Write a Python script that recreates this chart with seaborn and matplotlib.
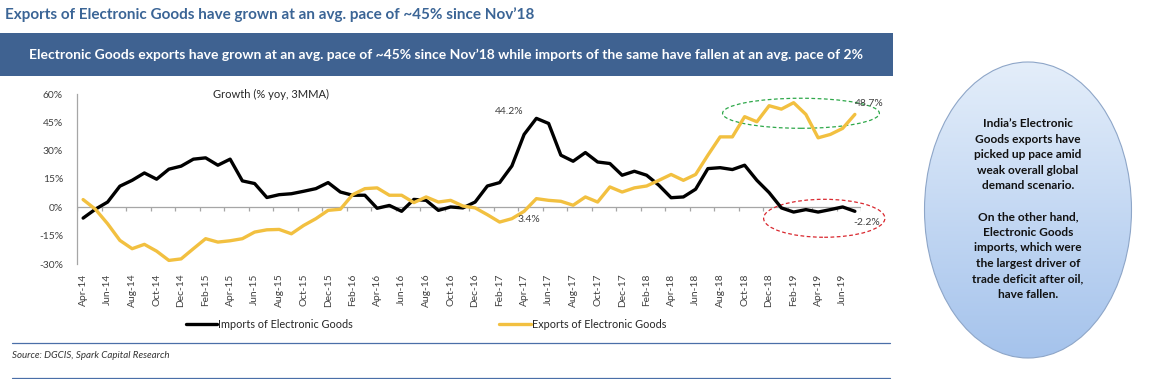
"""Electronic goods trade: imports vs exports growth (% yoy, 3MMA)."""

import matplotlib
matplotlib.use("Agg")
import matplotlib.pyplot as plt
import numpy as np
import pandas as pd
import seaborn as sns
from matplotlib.colors import LinearSegmentedColormap
from matplotlib.patches import Ellipse, Rectangle

# --- data ---
months = pd.date_range("2014-04-01", "2019-07-01", freq="MS")
month_labels = [d.strftime("%b-%y") for d in months]

imports_growth = [
    -5.7, -1.0, 2.8, 11.2, 14.3, 18.2, 14.9, 20.2, 21.8, 25.5, 26.2, 22.3, 25.5, 14.0, 12.6, 5.2,
    6.7, 7.2, 8.5, 9.9, 13.1, 8.1, 6.4, 6.4, -0.5, 1.0, -2.1, 4.2, 3.7, -1.6, 0.2, -0.3,
    2.8, 11.3, 13.1, 21.9, 38.6, 47.1, 44.4, 27.6, 24.4, 29.0, 24.0, 23.2, 17.0, 19.1, 17.0, 11.7,
    5.1, 5.5, 9.6, 20.5, 21.0, 20.0, 22.3, 14.3, 7.8, -0.3, -2.5, -1.2, -2.5, -1.2, 0.2, -2.1,
]
exports_growth = [
    4.1, -1.0, -8.7, -17.5, -21.9, -19.6, -23.2, -28.1, -27.3, -21.9, -16.6, -18.4, -17.7, -16.6, -13.1, -11.9,
    -11.7, -14.0, -9.6, -6.0, -1.6, -1.0, 6.7, 9.9, 10.3, 6.4, 6.4, 2.5, 5.5, 2.8, 3.7, 0.7,
    -0.3, -3.9, -7.8, -6.0, -2.1, 4.6, 3.7, 3.2, 1.1, 5.5, 2.8, 10.8, 8.1, 10.3, 11.3, 14.3,
    17.4, 14.3, 17.4, 27.6, 37.3, 37.3, 48.0, 45.3, 53.8, 52.0, 55.4, 49.2, 36.8, 38.6, 41.8, 49.2,
]
series_names = ["Imports of Electronic Goods", "Exports of Electronic Goods"]
series_colors = ["#000000", "#f2c040"]

y_ticks = [-30, -15, 0, 15, 30, 45, 60]

title = "Exports of Electronic Goods have grown at an avg. pace of ~45% since Nov\u201918"
banner = ("Electronic Goods exports have grown at an avg. pace of ~45% since Nov\u201918 "
          "while imports of the same have fallen at an avg. pace of 2%")
callout = ("India\u2019s Electronic\nGoods exports have\npicked up pace amid\nweak overall global\n"
           "demand scenario.\n\nOn the other hand,\nElectronic Goods\nimports, which were\n"
           "the largest driver of\ntrade deficit after oil,\nhave fallen.")

sns.set_style("white")
plt.rcParams["font.family"] = ["Lato", "DejaVu Sans"]

W, H = 1151, 379
fig = plt.figure(figsize=(W / 100, H / 100), dpi=100)

# decoration layer in pixel coordinates
deco = fig.add_axes([0, 0, 1, 1], zorder=0)
deco.axis("off")

deco.text(5, 15, title, color="#3b6596", fontsize=11, fontweight="bold", va="center", ha="left")
deco.add_patch(Rectangle((0, 33), 893, 43, facecolor="#3f6291", edgecolor="none"))
deco.text(446, 55, banner, color="white", fontsize=10, fontweight="bold", va="center", ha="center")
deco.plot([12, 890], [343, 343], color="#4a6fa8", lw=0.9)
deco.plot([12, 890], [378, 378], color="#4a6fa8", lw=0.9)
deco.text(12, 356, "Source: DGCIS, Spark Capital Research", fontsize=7, style="italic",
          color="#333333", va="center")

ell = Ellipse((1028, 210), 207, 296, facecolor="none", edgecolor="#8ea6c8", lw=0.8, zorder=3)
deco.add_patch(ell)
grad = np.linspace(0, 1, 256).reshape(-1, 1)
cmap = LinearSegmentedColormap.from_list("bl", ["#e4eefa", "#a5c3ec"])
im = deco.imshow(grad, extent=(924, 1132, 358, 62), cmap=cmap, aspect="auto", zorder=2)
im.set_clip_path(ell)
deco.text(1028, 209, callout, fontsize=8.6, fontweight="bold", color="#111111",
          ha="center", va="center", linespacing=1.5, zorder=4)
deco.set_xlim(0, W)
deco.set_ylim(H, 0)

# main chart
n = len(months)
df = pd.DataFrame({
    "idx": np.tile(np.arange(n), 2),
    "growth": imports_growth + exports_growth,
    "series": np.repeat(series_names, n),
})

left, right, top, bottom = 77, 861, 94, 264
ax = fig.add_axes([left / W, 1 - bottom / H, (right - left) / W, (bottom - top) / H], zorder=1)
ax.patch.set_alpha(0)

sns.lineplot(data=df, x="idx", y="growth", hue="series", hue_order=series_names,
             palette=series_colors, linewidth=2.4, ax=ax)

ax.set_xlim(-0.5, n - 0.5)
ax.set_ylim(-30, 60)
ax.set_yticks(y_ticks)
ax.set_yticklabels([f"{v}%" for v in y_ticks], fontsize=7.4, color="#404040")
ax.set_xticks(np.arange(0, n, 2))
ax.set_xticklabels(month_labels[::2], rotation=90, fontsize=7.4, color="#404040")
ax.tick_params(axis="both", length=0)
ax.tick_params(axis="x", pad=7)
ax.tick_params(axis="y", pad=10)
ax.set_xlabel("")
ax.set_ylabel("")
for s in ["top", "right", "bottom"]:
    ax.spines[s].set_visible(False)
ax.spines["left"].set_color("#a6a6a6")
ax.spines["left"].set_linewidth(0.9)

# category axis drawn through zero, with Excel-style tick marks
ax.axhline(0, color="#a6a6a6", lw=0.9, zorder=0)
ax.vlines(np.arange(-0.5, n, 2), -2.0, 0, color="#a6a6a6", lw=0.9, zorder=0)

ax.text(15.3, 60, "Growth (% yoy, 3MMA)", fontsize=8, color="#262626", ha="center", va="center")
ax.text(34.8, 51, "44.2%", fontsize=7.5, color="#404040", ha="center", va="center")
ax.text(36.4, -6.4, "3.4%", fontsize=7.5, color="#404040", ha="center", va="center")
ax.text(64.2, 55, "48.7%", fontsize=7.5, color="#404040", ha="center", va="center", clip_on=False)
ax.text(64.0, -8, "-2.2%", fontsize=7.5, color="#404040", ha="center", va="center", clip_on=False)

ax.add_patch(Ellipse((58.6, 49.8), 12.8, 15.9, fill=False, edgecolor="#2ea84a",
                     ls=(0, (3, 2)), lw=0.9, clip_on=False))
ax.add_patch(Ellipse((60.5, -5.8), 9.9, 20.1, fill=False, edgecolor="#d9282f",
                     ls=(0, (3, 2)), lw=0.9, clip_on=False))

handles, labels = ax.get_legend_handles_labels()
ax.get_legend().remove()
fig.legend(handles, labels, loc="center", bbox_to_anchor=(426 / W, 1 - 324 / H), ncol=2,
           frameon=False, fontsize=7.8, handlelength=2.9, handletextpad=0.1,
           columnspacing=13.5, labelcolor="#262626")

fig.savefig("out.png", dpi=100)
